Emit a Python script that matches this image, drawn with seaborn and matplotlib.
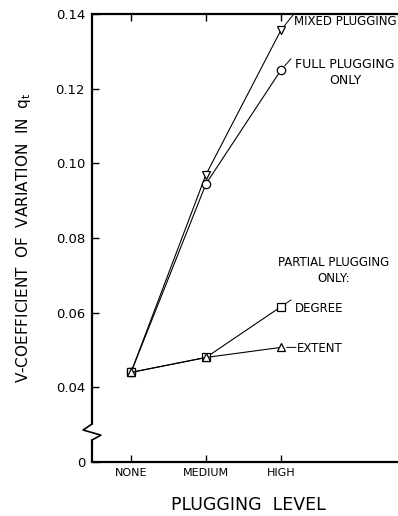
import numpy as np
import pandas as pd
import matplotlib
matplotlib.use("Agg")
import matplotlib.pyplot as plt
import seaborn as sns

# ---- data ----
levels = ["NONE", "MEDIUM", "HIGH"]
mixed = [0.044, 0.097, 0.1357]
full = [0.044, 0.0945, 0.125]
degree = [0.044, 0.048, 0.0616]
extent = [0.044, 0.048, 0.0507]
series_names = ["mixed", "full", "degree", "extent"]
ytick_vals = [0.02, 0.04, 0.06, 0.08, 0.10, 0.12, 0.14]
ytick_labels = ["0", "0.04", "0.06", "0.08", "0.10", "0.12", "0.14"]

rows = []
for name, vals in zip(series_names, [mixed, full, degree, extent]):
    for i, v in enumerate(vals):
        rows.append({"x": i, "level": levels[i], "v": v, "series": name})
df = pd.DataFrame(rows)

sns.set_theme(style="white")
plt.rcParams["font.family"] = ["DejaVu Sans"]
plt.rcParams["text.color"] = "black"
plt.rcParams["axes.labelcolor"] = "black"
plt.rcParams["xtick.color"] = "black"
plt.rcParams["ytick.color"] = "black"

fig = plt.figure(figsize=(3.98, 5.16), dpi=100)
ax = fig.add_axes([92/398, 54/516, 306/398, 448/516])

markers = {"mixed": "v", "full": "o", "degree": "s", "extent": "^"}
palette = {k: "black" for k in series_names}
sns.lineplot(data=df, x="x", y="v", hue="series", style="series",
             markers=markers, dashes=False, palette=palette, ax=ax,
             linewidth=0.8, markersize=6, markerfacecolor="white",
             markeredgecolor="black", markeredgewidth=0.9, legend=False)

ax.set_xlim(-0.52, 3.56)
ax.set_ylim(0.02, 0.14)
ax.set_xticks(range(len(levels)))
ax.set_xticklabels(levels, fontsize=8)
ax.set_yticks(ytick_vals)
ax.set_yticklabels(ytick_labels, fontsize=9.5)
ax.tick_params(axis="x", direction="in", length=5, width=1, top=True, bottom=True,
               pad=4, colors="black")
ax.tick_params(axis="y", direction="in", length=5, width=1, left=True, pad=5,
               colors="black")

ax.set_xlabel("PLUGGING  LEVEL", fontsize=12.5, va="center", color="black")
ax.xaxis.set_label_coords(0.51, -0.096)
ax.set_ylabel(r"V-COEFFICIENT  OF  VARIATION  IN  $\mathregular{q_t}$",
              fontsize=11, labelpad=16, color="black")

for s in ["top", "bottom", "left"]:
    ax.spines[s].set_linewidth(1.6)
    ax.spines[s].set_color("black")
ax.spines["right"].set_visible(False)
ax.spines["left"].set_visible(False)

# left spine with break
tr = ax.transAxes
ax.plot([0, 0], [0, 0.049], transform=tr, color="black", lw=1.6, clip_on=False)
ax.plot([0, 0.029, -0.029, 0], [0.049, 0.060, 0.0714, 0.0848], transform=tr,
        color="black", lw=1.2, clip_on=False)
ax.plot([0, 0], [0.0848, 1], transform=tr, color="black", lw=1.6, clip_on=False)

# leader lines
lk = dict(arrowstyle="-", color="black", lw=0.7, shrinkA=4, shrinkB=0)
ax.annotate("", xy=(2.16, 0.1397), xytext=(2, mixed[2]), arrowprops=lk)
ax.annotate("", xy=(2.133, 0.128), xytext=(2, full[2]), arrowprops=lk)
ax.annotate("", xy=(2.133, 0.0634), xytext=(2, degree[2]), arrowprops=lk)
ax.annotate("", xy=(2.2, 0.0507), xytext=(2, extent[2]), arrowprops=lk)

fs = 8.5
ax.text(2.17, 0.1379, "MIXED PLUGGING", fontsize=fs, ha="left", va="center",
        color="black")
ax.text(2.853, 0.1243, "FULL PLUGGING\nONLY", fontsize=9, ha="center",
        va="center", linespacing=1.3, color="black")
ax.text(2.707, 0.0713, "PARTIAL PLUGGING\nONLY:", fontsize=fs, ha="center",
        va="center", linespacing=1.3, color="black")
ax.text(2.187, 0.0612, "DEGREE", fontsize=fs, ha="left", va="center",
        color="black")
ax.text(2.213, 0.0505, "EXTENT", fontsize=fs, ha="left", va="center",
        color="black")

fig.savefig("out.png", dpi=100)
